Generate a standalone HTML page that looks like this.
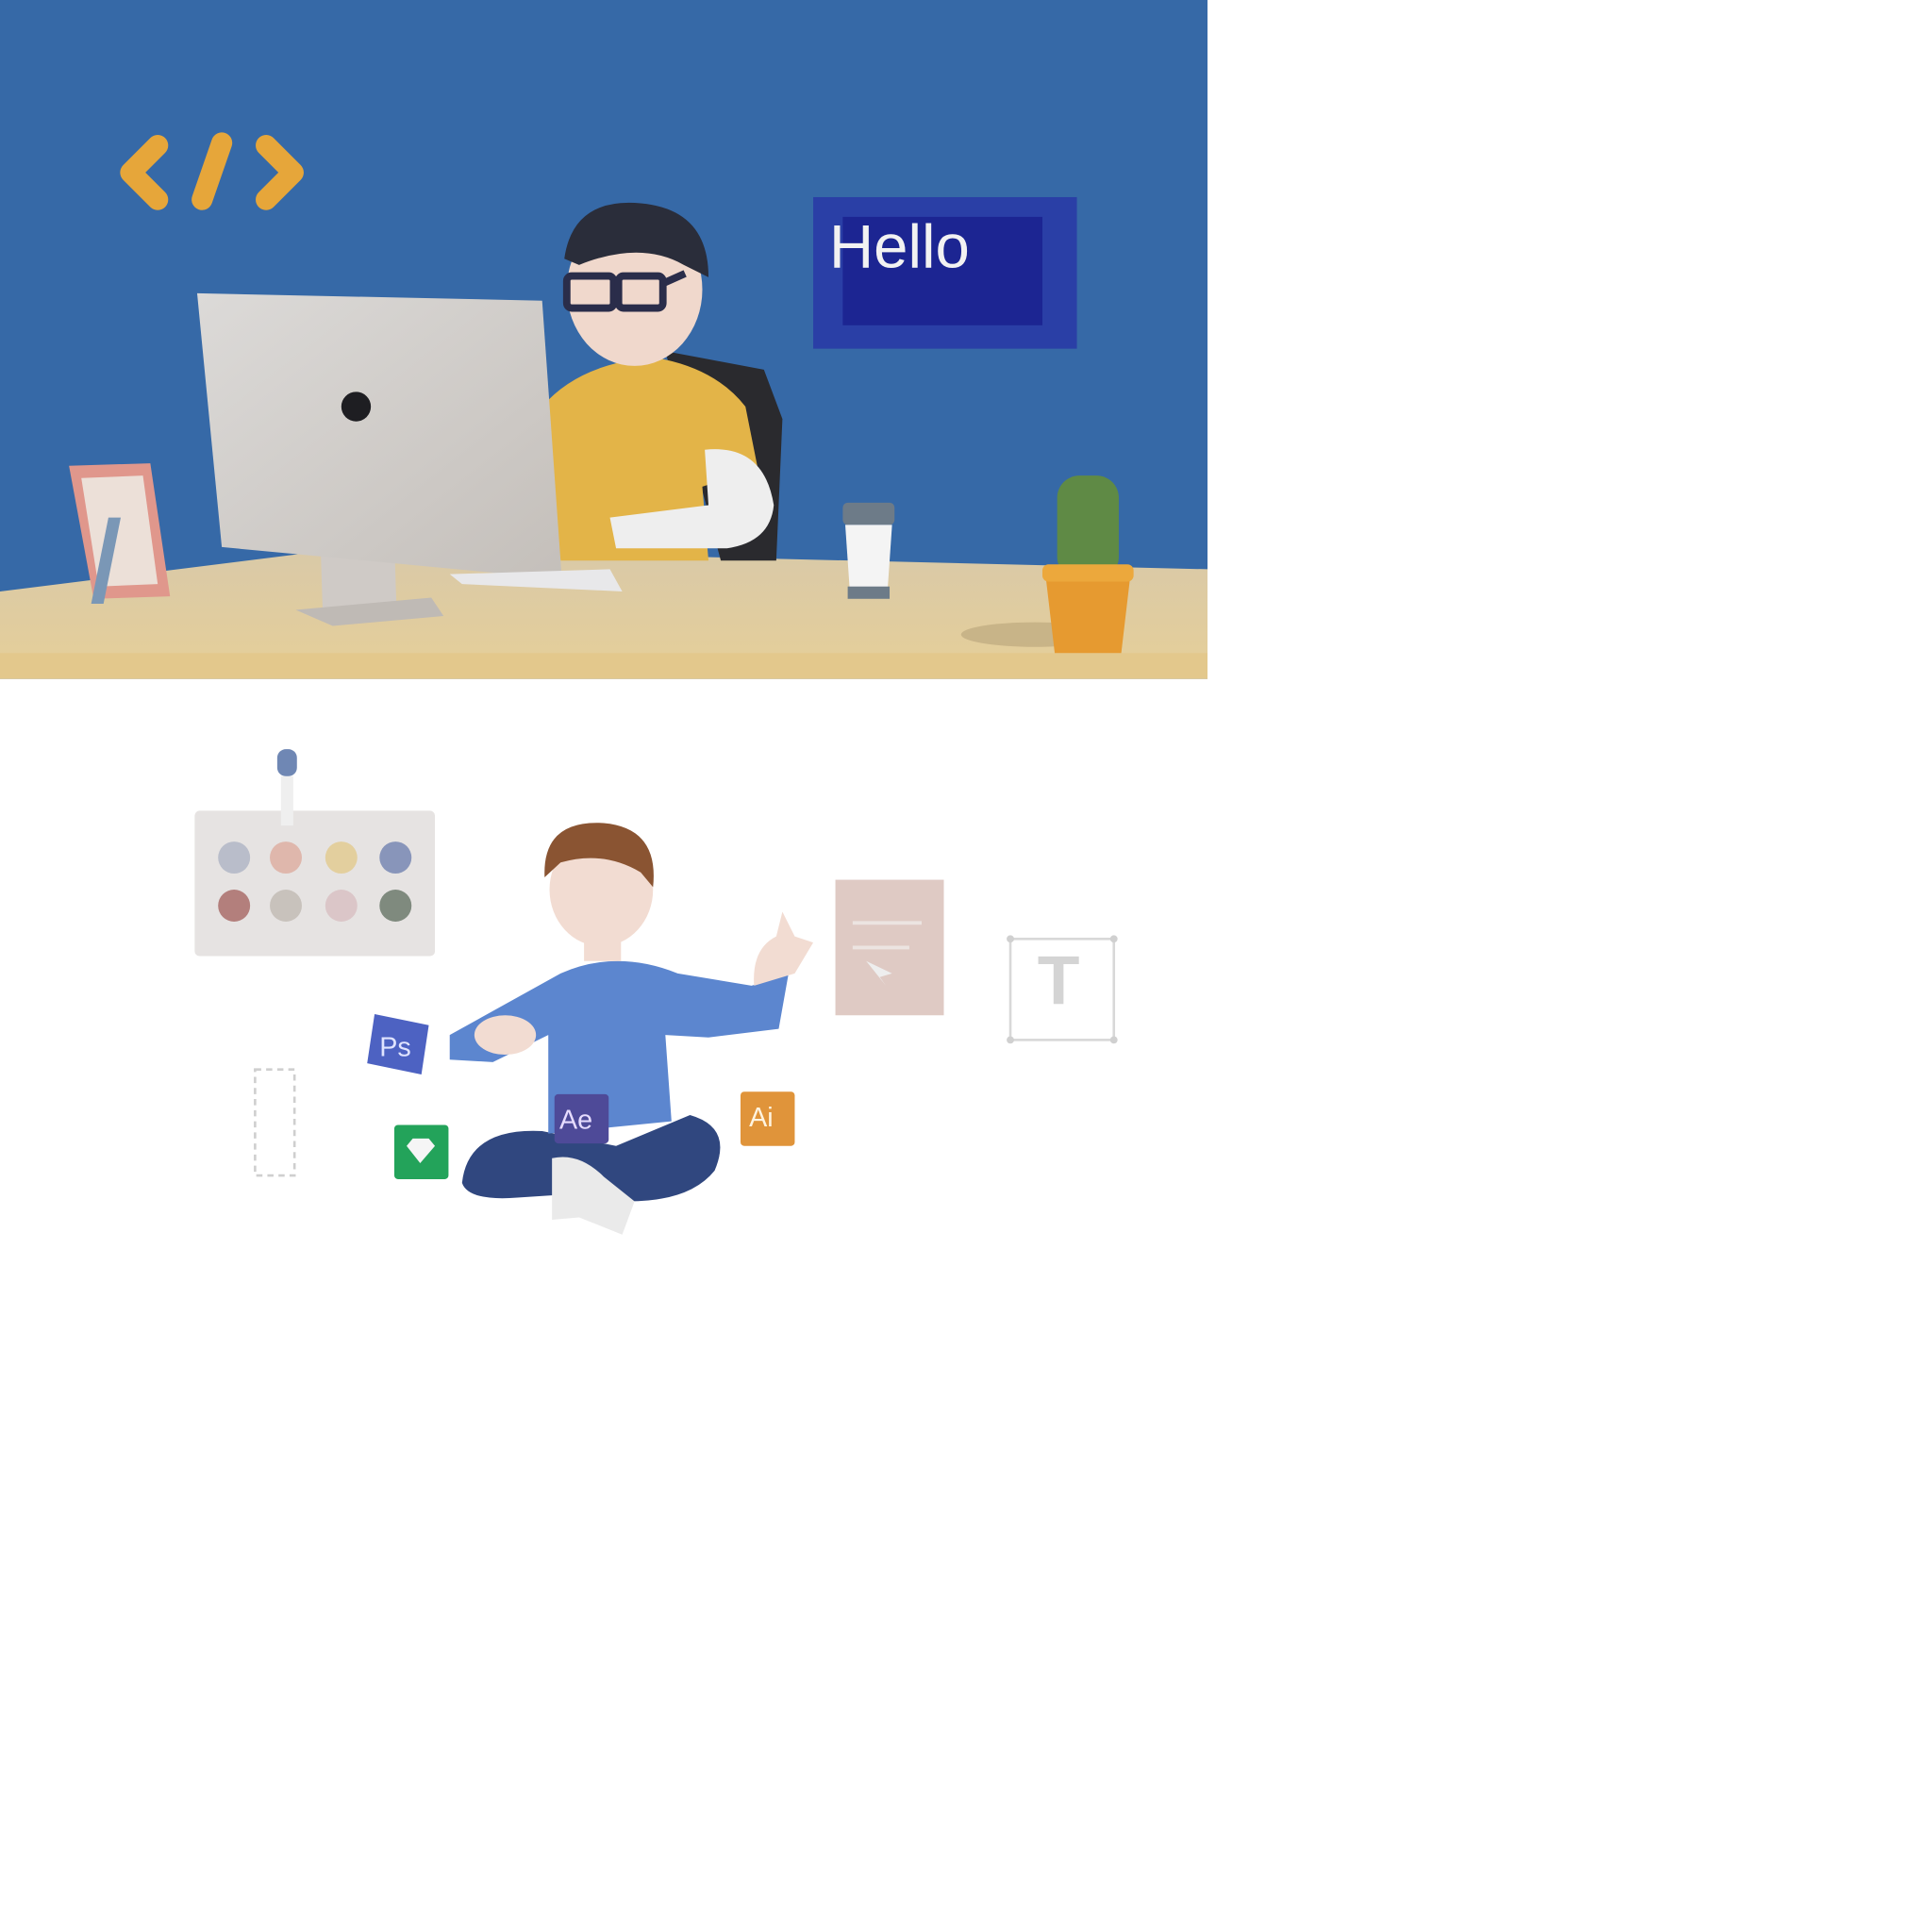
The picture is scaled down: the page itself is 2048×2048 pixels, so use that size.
<!DOCTYPE html>
<html><head><meta charset="utf-8"><style>
html,body{margin:0;padding:0;background:#fff;width:2048px;height:2048px;overflow:hidden}
svg{display:block}
text{font-family:"Liberation Sans",sans-serif}
</style></head><body>
<svg width="2048" height="2048" viewBox="0 0 1568 1568">
<defs>
<linearGradient id="desk" x1="0" y1="0" x2="0" y2="1"><stop offset="0" stop-color="#d9c9a8"/><stop offset="1" stop-color="#e6cf98"/></linearGradient>
<linearGradient id="mon" x1="0" y1="0" x2="1" y2="1"><stop offset="0" stop-color="#dcdad8"/><stop offset="1" stop-color="#c4bfba"/></linearGradient>
</defs>
<g>
<rect x="0" y="0" width="980" height="551" fill="#3669a7"/>
<g stroke="#e6a63a" stroke-width="17" stroke-linecap="round" stroke-linejoin="round" fill="none">
<polyline points="128,118 106,140 128,162"/>
<line x1="180" y1="116" x2="164" y2="162"/>
<polyline points="216,118 238,140 216,162"/>
</g>
<g>
<rect x="660" y="160" width="214" height="123" fill="#2a3fa6"/>
<rect x="684" y="176" width="162" height="88" fill="#1c2592"/>
<text x="673" y="217" font-size="50" fill="#f2f2f2">Hello</text>
</g>
<path d="M0,480 L280,445 L980,462 L980,551 L0,551 Z" fill="url(#desk)"/>
<rect x="0" y="530" width="980" height="21" fill="#e3c88c"/>
<g>
<polygon points="56,378 122,376 138,484 76,486" fill="#e0978c"/>
<polygon points="66,388 116,386 128,474 80,476" fill="#ece0d8"/>
<polygon points="88,420 98,420 84,490 74,490" fill="#7a97b6"/>
</g>
<g>
<path d="M540,285 L620,300 L635,340 L630,455 L585,455 Z" fill="#2a2a2e"/>
<path d="M440,330 Q470,295 530,290 Q580,298 605,330 L615,380 L570,395 L575,455 L455,455 Z" fill="#e3b448"/>
<path d="M572,365 Q620,360 628,410 Q625,440 590,445 L500,445 L495,420 L575,410 Z" fill="#eeeeee"/>
<ellipse cx="515" cy="235" rx="55" ry="62" fill="#f0d8cc"/>
<path d="M458,210 Q465,160 520,165 Q575,170 575,225 L555,215 Q520,195 470,215 Z" fill="#2a2d3a"/>
<rect x="460" y="224" width="38" height="26" rx="4" fill="none" stroke="#2a2d4a" stroke-width="6"/>
<rect x="502" y="224" width="36" height="26" rx="4" fill="none" stroke="#2a2d4a" stroke-width="6"/>
<line x1="538" y1="230" x2="556" y2="222" stroke="#2a2d4a" stroke-width="6"/>
</g>
<g>
<polygon points="258,375 318,375 322,500 262,500" fill="#cfcac6"/>
<polygon points="240,495 350,485 360,500 270,508" fill="#bfbab5"/>
<polygon points="160,238 440,244 456,470 180,444" fill="url(#mon)"/>
<circle cx="289" cy="330" r="12" fill="#1e1e22"/>
</g>
<polygon points="365,466 495,462 505,480 375,474" fill="#e8e8ea"/>
<g>
<rect x="684" y="408" width="42" height="18" rx="4" fill="#6d7b88"/>
<path d="M686,426 L724,426 L720,484 L690,484 Z" fill="#f4f4f4"/>
<rect x="688" y="476" width="34" height="10" fill="#6d7b88"/>
</g>
<g>
<ellipse cx="840" cy="515" rx="60" ry="10" fill="#b8a47a" opacity="0.6"/>
<rect x="858" y="386" width="50" height="84" rx="18" fill="#5f8a45"/>
<path d="M848,462 L918,462 L910,530 L856,530 Z" fill="#e69a30"/>
<rect x="846" y="458" width="74" height="14" rx="5" fill="#eca83c"/>
</g>
</g>
<g>
<g>
<rect x="158" y="658" width="195" height="118" rx="4" fill="#e6e3e2"/>
<circle cx="190" cy="696" r="13" fill="#b9bdca"/><circle cx="232" cy="696" r="13" fill="#dfb7ac"/><circle cx="277" cy="696" r="13" fill="#e3cf9e"/><circle cx="321" cy="696" r="13" fill="#8895ba"/>
<circle cx="190" cy="735" r="13" fill="#b37f7c"/><circle cx="232" cy="735" r="13" fill="#c8c2bc"/><circle cx="277" cy="735" r="13" fill="#dbc6c8"/><circle cx="321" cy="735" r="13" fill="#7f8a7e"/>
</g>
<g>
<rect x="225" y="608" width="16" height="22" rx="7" fill="#6f87b4"/>
<rect x="228" y="630" width="10" height="40" fill="#efefef"/>
</g>
<rect x="207" y="868" width="32" height="86" fill="none" stroke="#cfcfcf" stroke-width="2" stroke-dasharray="5,4"/>
<g>
<path d="M375,960 Q380,915 440,918 L500,930 L560,905 Q595,915 580,950 Q560,975 510,975 L480,968 L420,972 Q380,975 375,960 Z" fill="#30477f"/>
<path d="M455,790 Q500,770 550,790 L610,800 L640,790 L632,835 L575,842 L540,840 L545,910 L445,920 L445,840 L400,862 L365,860 L365,840 Z" fill="#5c86cf"/>
<path d="M448,940 Q470,935 490,955 L515,975 L505,1002 L470,988 L448,990 Z" fill="#eaeaea"/>
<ellipse cx="410" cy="840" rx="25" ry="16" fill="#f2dcd2"/>
<path d="M612,800 Q610,770 630,760 L635,740 L645,760 L660,765 L645,790 Z" fill="#f2dcd2"/>
<rect x="474" y="755" width="30" height="25" fill="#f2dcd2"/>
<ellipse cx="488" cy="722" rx="42" ry="46" fill="#f2dcd2"/>
<path d="M442,712 Q440,665 490,668 Q535,672 530,720 L520,708 Q490,690 455,700 Z" fill="#8a5432"/>
</g>
<g><polygon points="304,823 348,832 342,872 298,863" fill="#4d62c2"/><text x="308" y="857" font-size="22" fill="#e0e4ff">Ps</text></g>
<g><rect x="450" y="888" width="44" height="40" rx="3" fill="#4e4a98"/><text x="454" y="916" font-size="22" fill="#e6dcff">Ae</text></g>
<g><rect x="601" y="886" width="44" height="44" rx="3" fill="#e0943a"/><text x="608" y="914" font-size="22" fill="#fff4e0">Ai</text></g>
<g><rect x="320" y="913" width="44" height="44" rx="3" fill="#23a35a"/><polygon points="330,930 335,924 348,924 353,930 341,944" fill="#f5f5f5"/></g>
<g>
<rect x="678" y="714" width="88" height="110" fill="#dfcac4"/>
<line x1="692" y1="749" x2="748" y2="749" stroke="#ece4e1" stroke-width="3"/>
<line x1="692" y1="769" x2="738" y2="769" stroke="#ece4e1" stroke-width="3"/>
<polygon points="703,780 724,790 714,793 719,800" fill="#eeeeee"/>
</g>
<g>
<rect x="820" y="762" width="84" height="82" fill="none" stroke="#d8d8d8" stroke-width="2"/>
<circle cx="820" cy="762" r="3" fill="#d0d0d0"/><circle cx="904" cy="762" r="3" fill="#d0d0d0"/><circle cx="820" cy="844" r="3" fill="#d0d0d0"/><circle cx="904" cy="844" r="3" fill="#d0d0d0"/>
<text x="842" y="815" font-size="56" font-weight="bold" font-family="Liberation Serif, serif" fill="#d4d4d4">T</text>
</g>
</g>
</svg>
</body></html>
